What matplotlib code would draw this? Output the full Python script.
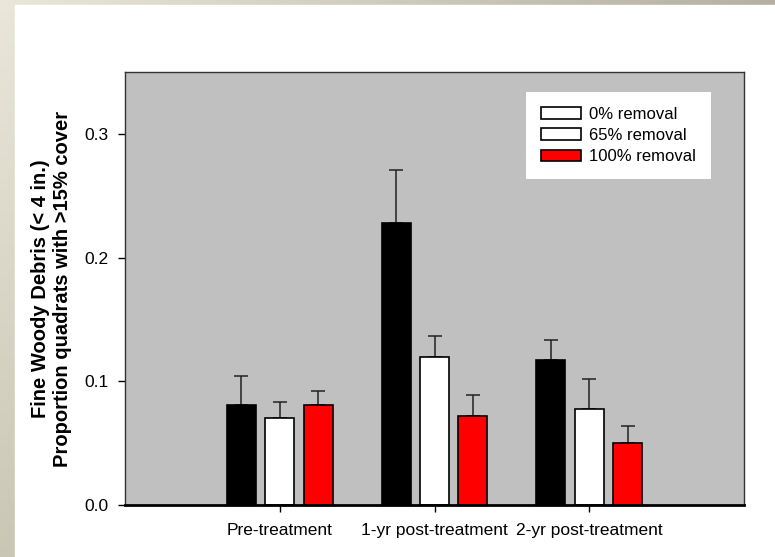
import numpy as np
import matplotlib
matplotlib.use("Agg")
import matplotlib.pyplot as plt
from matplotlib.patches import Patch, Rectangle

plt.rcParams['font.family'] = ['Liberation Sans', 'DejaVu Sans']

# data
periods = ["Pre-treatment", "1-yr post-treatment", "2-yr post-treatment"]
treatments = ["0% removal", "65% removal", "100% removal"]
mean_0 = [0.081, 0.228, 0.117]
mean_65 = [0.070, 0.120, 0.078]
mean_100 = [0.081, 0.072, 0.050]
err_0 = [0.023, 0.043, 0.016]
err_65 = [0.013, 0.017, 0.024]
err_100 = [0.011, 0.017, 0.014]

bar_colors = ["black", "white", "red"]
legend_colors = ["white", "white", "red"]

fig = plt.figure(figsize=(7.75, 5.57), dpi=100)
fig.patch.set_facecolor("white")

# slide background: beige strips on top and left edges
bg = fig.add_axes([0, 0, 1, 1], zorder=-5)
c_tl = np.array([0.915, 0.905, 0.855])
c_tr = np.array([0.71, 0.69, 0.625])
c_bl = np.array([0.79, 0.78, 0.71])
u = np.linspace(0, 1, 100)[None, :, None]
v = np.linspace(0, 1, 50)[:, None, None]
grad = c_tl + (c_tr - c_tl) * u + (c_bl - c_tl) * v
bg.imshow(grad, extent=[0, 1, 0, 1], aspect="auto", origin="upper")
bg.add_patch(Rectangle((15 / 775, 0), 1, 1 - 5 / 557, color="white", transform=bg.transAxes))
bg.set_axis_off()

ax = fig.add_axes([125 / 775, 52 / 557, 619 / 775, 433 / 557])
ax.set_facecolor("#c0c0c0")

x = np.arange(1, len(periods) + 1)
width = 0.187
offset = 0.248
means = [mean_0, mean_65, mean_100]
errs = [err_0, err_65, err_100]
for i, (m, e, c) in enumerate(zip(means, errs, bar_colors)):
    pos = x + (i - 1) * offset
    ax.bar(pos, m, width, color=c, edgecolor="black", linewidth=1.2, zorder=3)
    ax.errorbar(pos, m, yerr=[np.zeros(len(e)), e], fmt="none", ecolor="#222222",
                elinewidth=1.1, capsize=5, capthick=1.1, zorder=2)

ax.set_xlim(0, 4)
ax.set_ylim(0, 0.35)
ax.set_yticks([0.0, 0.1, 0.2, 0.3])
ax.set_yticklabels(["0.0", "0.1", "0.2", "0.3"])
ax.set_xticks(x)
ax.set_xticklabels(periods, fontsize=12.5)
ax.tick_params(axis="y", direction="out", length=5, width=1, pad=7, labelsize=12.5)
ax.tick_params(axis="x", direction="out", length=5, width=1, pad=8)

for side in ["top", "right", "left"]:
    ax.spines[side].set_color("#333333")
    ax.spines[side].set_linewidth(1)
ax.spines["bottom"].set_linewidth(2)
ax.spines["bottom"].set_zorder(4)

ax.set_ylabel("Fine Woody Debris (< 4 in.)\nProportion quadrats with >15% cover",
              fontsize=14.5, fontweight="bold", labelpad=9, linespacing=1.15)

handles = [Patch(facecolor=c, edgecolor="black", linewidth=1.2) for c in legend_colors]
leg = ax.legend(handles, treatments, loc="upper left", bbox_to_anchor=(0.648, 0.954),
                borderaxespad=0, fontsize=12, handlelength=2.4, handleheight=0.7,
                handletextpad=0.5, labelspacing=0.37, borderpad=0.9,
                fancybox=False, framealpha=1, edgecolor="white")
leg.get_frame().set_linewidth(0)

plt.savefig("out.png", dpi=100)
